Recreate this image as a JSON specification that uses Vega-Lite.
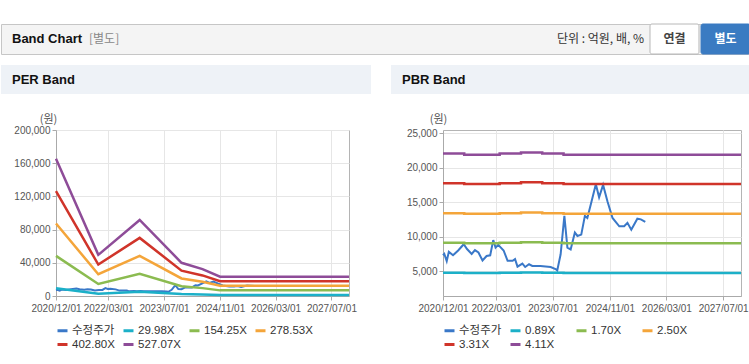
{
  "$schema": "https://vega.github.io/schema/vega-lite/v6.json",
  "padding": {"left": 0, "top": 23, "right": 0, "bottom": 0},
  "background": "white",
  "config": {
    "font": "Liberation Sans",
    "view": {"stroke": "#b4b4b4"},
    "axis": {
      "labelFont": "Liberation Sans", "labelFontSize": 10, "labelColor": "#555555",
      "domainColor": "#aaaaaa", "tickColor": "#aaaaaa", "tickSize": 4,
      "gridColor": "#e6e6e6", "titleFont": "Noto Sans CJK KR", "titleFontWeight": "normal",
      "titleFontSize": 11, "titleColor": "#555555", "labelFlush": false, "labelOverlap": false
    },
    "legend": {
      "orient": "bottom", "direction": "horizontal", "columns": 4, "title": null,
      "symbolType": "stroke", "symbolSize": 100, "symbolStrokeWidth": 3,
      "labelFontSize": 11.5, "labelColor": "#333333", "labelFont": "Liberation Sans, Noto Sans CJK KR",
      "gridAlign": "all", "columnPadding": 2, "rowPadding": 1, "offset": 11, "labelOffset": 3
    }
  },
  "datasets": {
    "price": [
      {"d": "2020-12-01", "v": 7300, "s": "수정주가"},
      {"d": "2020-12-12", "v": 7500, "s": "수정주가"},
      {"d": "2021-01-02", "v": 6450, "s": "수정주가"},
      {"d": "2021-01-20", "v": 7800, "s": "수정주가"},
      {"d": "2021-02-25", "v": 7300, "s": "수정주가"},
      {"d": "2021-04-10", "v": 8000, "s": "수정주가"},
      {"d": "2021-05-28", "v": 8900, "s": "수정주가"},
      {"d": "2021-06-25", "v": 8200, "s": "수정주가"},
      {"d": "2021-08-04", "v": 7500, "s": "수정주가"},
      {"d": "2021-09-01", "v": 8050, "s": "수정주가"},
      {"d": "2021-10-01", "v": 7700, "s": "수정주가"},
      {"d": "2021-11-05", "v": 6550, "s": "수정주가"},
      {"d": "2021-12-10", "v": 7200, "s": "수정주가"},
      {"d": "2022-01-10", "v": 7300, "s": "수정주가"},
      {"d": "2022-02-05", "v": 9500, "s": "수정주가"},
      {"d": "2022-02-25", "v": 8400, "s": "수정주가"},
      {"d": "2022-03-20", "v": 8800, "s": "수정주가"},
      {"d": "2022-05-05", "v": 8000, "s": "수정주가"},
      {"d": "2022-06-08", "v": 6500, "s": "수정주가"},
      {"d": "2022-07-21", "v": 6500, "s": "수정주가"},
      {"d": "2022-08-11", "v": 6750, "s": "수정주가"},
      {"d": "2022-09-01", "v": 5650, "s": "수정주가"},
      {"d": "2022-10-13", "v": 6100, "s": "수정주가"},
      {"d": "2022-11-06", "v": 5600, "s": "수정주가"},
      {"d": "2022-12-09", "v": 6000, "s": "수정주가"},
      {"d": "2023-01-06", "v": 5750, "s": "수정주가"},
      {"d": "2023-03-17", "v": 5750, "s": "수정주가"},
      {"d": "2023-06-12", "v": 5600, "s": "수정주가"},
      {"d": "2023-07-24", "v": 5300, "s": "수정주가"},
      {"d": "2023-08-08", "v": 5100, "s": "수정주가"},
      {"d": "2023-09-06", "v": 7450, "s": "수정주가"},
      {"d": "2023-10-08", "v": 13000, "s": "수정주가"},
      {"d": "2023-11-03", "v": 8400, "s": "수정주가"},
      {"d": "2023-12-01", "v": 8150, "s": "수정주가"},
      {"d": "2024-01-06", "v": 10600, "s": "수정주가"},
      {"d": "2024-01-28", "v": 10100, "s": "수정주가"},
      {"d": "2024-03-01", "v": 10300, "s": "수정주가"},
      {"d": "2024-04-01", "v": 13000, "s": "수정주가"},
      {"d": "2024-04-22", "v": 12700, "s": "수정주가"},
      {"d": "2024-05-22", "v": 14700, "s": "수정주가"},
      {"d": "2024-07-04", "v": 17600, "s": "수정주가"},
      {"d": "2024-08-01", "v": 15700, "s": "수정주가"},
      {"d": "2024-09-04", "v": 17500, "s": "수정주가"},
      {"d": "2024-10-12", "v": 15100, "s": "수정주가"},
      {"d": "2024-11-24", "v": 12700, "s": "수정주가"},
      {"d": "2025-01-21", "v": 11500, "s": "수정주가"},
      {"d": "2025-03-04", "v": 11500, "s": "수정주가"},
      {"d": "2025-04-01", "v": 12000, "s": "수정주가"},
      {"d": "2025-05-04", "v": 11000, "s": "수정주가"},
      {"d": "2025-06-25", "v": 12600, "s": "수정주가"},
      {"d": "2025-07-25", "v": 12500, "s": "수정주가"},
      {"d": "2025-09-01", "v": 12150, "s": "수정주가"}
    ],
    "per": [
      {"d": "2020-12-01", "s": "29.98X", "v": 9402},
      {"d": "2021-12-05", "s": "29.98X", "v": 2821},
      {"d": "2022-12-01", "s": "29.98X", "v": 5211},
      {"d": "2023-12-01", "s": "29.98X", "v": 2276},
      {"d": "2024-06-01", "s": "29.98X", "v": 1844},
      {"d": "2024-11-01", "s": "29.98X", "v": 1319},
      {"d": "2027-12-01", "s": "29.98X", "v": 1319},
      {"d": "2020-12-01", "s": "154.25X", "v": 48373},
      {"d": "2021-12-05", "s": "154.25X", "v": 14515},
      {"d": "2022-12-01", "s": "154.25X", "v": 26809},
      {"d": "2023-12-01", "s": "154.25X", "v": 11708},
      {"d": "2024-06-01", "s": "154.25X", "v": 9486},
      {"d": "2024-11-01", "s": "154.25X", "v": 6787},
      {"d": "2027-12-01", "s": "154.25X", "v": 6787},
      {"d": "2020-12-01", "s": "278.53X", "v": 87347},
      {"d": "2021-12-05", "s": "278.53X", "v": 26210},
      {"d": "2022-12-01", "s": "278.53X", "v": 48409},
      {"d": "2023-12-01", "s": "278.53X", "v": 21140},
      {"d": "2024-06-01", "s": "278.53X", "v": 17130},
      {"d": "2024-11-01", "s": "278.53X", "v": 12255},
      {"d": "2027-12-01", "s": "278.53X", "v": 12255},
      {"d": "2020-12-01", "s": "402.80X", "v": 126318},
      {"d": "2021-12-05", "s": "402.80X", "v": 37903},
      {"d": "2022-12-01", "s": "402.80X", "v": 70007},
      {"d": "2023-12-01", "s": "402.80X", "v": 30573},
      {"d": "2024-06-01", "s": "402.80X", "v": 24772},
      {"d": "2024-11-01", "s": "402.80X", "v": 17723},
      {"d": "2027-12-01", "s": "402.80X", "v": 17723},
      {"d": "2020-12-01", "s": "527.07X", "v": 165289},
      {"d": "2021-12-05", "s": "527.07X", "v": 49597},
      {"d": "2022-12-01", "s": "527.07X", "v": 91605},
      {"d": "2023-12-01", "s": "527.07X", "v": 40005},
      {"d": "2024-06-01", "s": "527.07X", "v": 32415},
      {"d": "2024-11-01", "s": "527.07X", "v": 23191},
      {"d": "2027-12-01", "s": "527.07X", "v": 23191}
    ],
    "pbr": [
      {"d": "2020-12-01", "s": "0.89X", "v": 4770},
      {"d": "2021-06-01", "s": "0.89X", "v": 4735},
      {"d": "2022-04-01", "s": "0.89X", "v": 4770},
      {"d": "2022-10-01", "s": "0.89X", "v": 4806},
      {"d": "2023-04-01", "s": "0.89X", "v": 4770},
      {"d": "2023-10-01", "s": "0.89X", "v": 4735},
      {"d": "2027-12-01", "s": "0.89X", "v": 4735},
      {"d": "2020-12-01", "s": "1.70X", "v": 9112},
      {"d": "2021-06-01", "s": "1.70X", "v": 9044},
      {"d": "2022-04-01", "s": "1.70X", "v": 9112},
      {"d": "2022-10-01", "s": "1.70X", "v": 9180},
      {"d": "2023-04-01", "s": "1.70X", "v": 9112},
      {"d": "2023-10-01", "s": "1.70X", "v": 9044},
      {"d": "2027-12-01", "s": "1.70X", "v": 9044},
      {"d": "2020-12-01", "s": "2.50X", "v": 13400},
      {"d": "2021-06-01", "s": "2.50X", "v": 13300},
      {"d": "2022-04-01", "s": "2.50X", "v": 13400},
      {"d": "2022-10-01", "s": "2.50X", "v": 13500},
      {"d": "2023-04-01", "s": "2.50X", "v": 13400},
      {"d": "2023-10-01", "s": "2.50X", "v": 13300},
      {"d": "2027-12-01", "s": "2.50X", "v": 13300},
      {"d": "2020-12-01", "s": "3.31X", "v": 17742},
      {"d": "2021-06-01", "s": "3.31X", "v": 17609},
      {"d": "2022-04-01", "s": "3.31X", "v": 17742},
      {"d": "2022-10-01", "s": "3.31X", "v": 17874},
      {"d": "2023-04-01", "s": "3.31X", "v": 17742},
      {"d": "2023-10-01", "s": "3.31X", "v": 17609},
      {"d": "2027-12-01", "s": "3.31X", "v": 17609},
      {"d": "2020-12-01", "s": "4.11X", "v": 22030},
      {"d": "2021-06-01", "s": "4.11X", "v": 21865},
      {"d": "2022-04-01", "s": "4.11X", "v": 22030},
      {"d": "2022-10-01", "s": "4.11X", "v": 22194},
      {"d": "2023-04-01", "s": "4.11X", "v": 22030},
      {"d": "2023-10-01", "s": "4.11X", "v": 21865},
      {"d": "2027-12-01", "s": "4.11X", "v": 21865}
    ]
  },
  "resolve": {"scale": {"color": "independent"}, "legend": {"color": "independent"}},
  "spacing": 10,
  "vconcat": [
    {
      "width": 749, "height": 30,
      "view": {"fill": "#f4f4f4", "stroke": "#c6c6c6"},
      "resolve": {"scale": {"x": "independent"}},
      "layer": [
        {
          "data": {"values": [{"b": "연결"}, {"b": "별도"}]},
          "layer": [
            {
              "mark": {"type": "rect", "cornerRadius": 2, "strokeWidth": 1},
              "encoding": {
                "x": {"field": "b", "type": "nominal", "scale": {"type": "band", "domain": ["연결", "별도"], "range": [649, 749], "paddingInner": 0.04, "paddingOuter": 0}, "axis": null},
                "fill": {"field": "b", "type": "nominal", "scale": {"domain": ["연결", "별도"], "range": ["#ffffff", "#3a7bc2"]}, "legend": null},
                "stroke": {"field": "b", "type": "nominal", "scale": {"domain": ["연결", "별도"], "range": ["#b8b8b8", "#3a7bc2"]}, "legend": null}
              }
            },
            {
              "mark": {"type": "text", "font": "Noto Sans CJK KR", "fontWeight": "bold", "fontSize": 12},
              "encoding": {
                "x": {"field": "b", "type": "nominal", "scale": {"type": "band", "domain": ["연결", "별도"], "range": [649, 749], "paddingInner": 0.04, "paddingOuter": 0}, "axis": null},
                "text": {"field": "b"},
                "color": {"field": "b", "type": "nominal", "scale": {"domain": ["연결", "별도"], "range": ["#444444", "#ffffff"]}, "legend": null}
              }
            }
          ]
        },
        {
          "data": {"values": [{"t": "Band Chart"}]},
          "mark": {"type": "text", "align": "left", "fontWeight": "bold", "fontSize": 13, "font": "Liberation Sans", "color": "#111111"},
          "encoding": {
            "x": {"field": "t", "type": "nominal", "scale": {"type": "point", "range": [11, 11]}, "axis": null},
            "text": {"field": "t"}
          }
        },
        {
          "data": {"values": [{"t": "[별도]"}]},
          "mark": {"type": "text", "align": "left", "fontSize": 12, "font": "Noto Sans CJK KR", "color": "#888888"},
          "encoding": {
            "x": {"field": "t", "type": "nominal", "scale": {"type": "point", "range": [88, 88]}, "axis": null},
            "text": {"field": "t"}
          }
        },
        {
          "data": {"values": [{"t": "단위 : 억원, 배, %"}]},
          "mark": {"type": "text", "align": "right", "fontSize": 12, "font": "Noto Sans CJK KR", "color": "#333333"},
          "encoding": {
            "x": {"field": "t", "type": "nominal", "scale": {"type": "point", "range": [643, 643]}, "axis": null},
            "text": {"field": "t"}
          }
        }
      ]
    },
    {
      "spacing": 18,
      "resolve": {"scale": {"color": "independent"}, "legend": {"color": "independent"}},
      "vconcat": [
        {
          "spacing": 20,
          "hconcat": [
            {
              "width": 370, "height": 29,
              "view": {"fill": "#eef2f7", "stroke": null},
              "data": {"values": [{"t": "PER Band"}]},
              "mark": {"type": "text", "align": "left", "fontWeight": "bold", "fontSize": 13, "font": "Liberation Sans", "color": "#111111"},
              "encoding": {
                "x": {"field": "t", "type": "nominal", "scale": {"type": "point", "range": [11, 11]}, "axis": null},
                "text": {"field": "t"}
              }
            },
            {
              "width": 359, "height": 29,
              "view": {"fill": "#eef2f7", "stroke": null},
              "data": {"values": [{"t": "PBR Band"}]},
              "mark": {"type": "text", "align": "left", "fontWeight": "bold", "fontSize": 13, "font": "Liberation Sans", "color": "#111111"},
              "encoding": {
                "x": {"field": "t", "type": "nominal", "scale": {"type": "point", "range": [11, 11]}, "axis": null},
                "text": {"field": "t"}
              }
            }
          ]
        },
        {
          "spacing": 0,
          "resolve": {"scale": {"color": "independent"}, "legend": {"color": "independent"}},
          "hconcat": [
            {
              "width": 1, "height": 1,
              "view": {"stroke": null},
              "data": {"values": []},
              "mark": "point"
            },
            {
              "width": 293, "height": 166,
              "encoding": {
                "x": {"field": "d", "type": "temporal",
                  "scale": {"type": "utc", "domain": [{"year": 2020, "month": 12, "date": 1, "utc": true}, {"year": 2027, "month": 12, "date": 1, "utc": true}]},
                  "axis": {"title": null, "format": "%Y/%m/%d", "grid": true, "labelPadding": 3,
                    "values": [{"year": 2020, "month": 12, "date": 1, "utc": true}, {"year": 2022, "month": 3, "date": 1, "utc": true}, {"year": 2023, "month": 7, "date": 1, "utc": true}, {"year": 2024, "month": 11, "date": 1, "utc": true}, {"year": 2026, "month": 3, "date": 1, "utc": true}, {"year": 2027, "month": 7, "date": 1, "utc": true}]}},
                "y": {"field": "v", "type": "quantitative",
                  "scale": {"domain": [0, 200000], "nice": false, "zero": false},
                  "axis": {"title": "(원)", "titleAngle": 0, "titleAlign": "center", "titleBaseline": "bottom", "titleX": -8, "titleY": -6,
                    "values": [0, 40000, 80000, 120000, 160000, 200000], "format": ",d", "grid": true, "minExtent": 53, "labelPadding": 2}},
                "color": {"field": "s", "type": "nominal",
                  "scale": {"domain": ["수정주가", "29.98X", "154.25X", "278.53X", "402.80X", "527.07X"], "range": ["#3a78c8", "#1cb0c8", "#8bbb50", "#f4a53a", "#d0342a", "#8e4c98"]}}
              },
              "layer": [
                {"data": {"name": "price"}, "mark": {"type": "line", "strokeWidth": 2}},
                {"data": {"name": "per"}, "mark": {"type": "line", "strokeWidth": 2.5}}
              ]
            },
            {
              "width": 298, "height": 166,
              "encoding": {
                "x": {"field": "d", "type": "temporal",
                  "scale": {"type": "utc", "domain": [{"year": 2020, "month": 12, "date": 1, "utc": true}, {"year": 2027, "month": 12, "date": 1, "utc": true}]},
                  "axis": {"title": null, "format": "%Y/%m/%d", "grid": true, "labelPadding": 3,
                    "values": [{"year": 2020, "month": 12, "date": 1, "utc": true}, {"year": 2022, "month": 3, "date": 1, "utc": true}, {"year": 2023, "month": 7, "date": 1, "utc": true}, {"year": 2024, "month": 11, "date": 1, "utc": true}, {"year": 2026, "month": 3, "date": 1, "utc": true}, {"year": 2027, "month": 7, "date": 1, "utc": true}]}},
                "y": {"field": "v", "type": "quantitative",
                  "scale": {"domain": [1400, 25450], "nice": false, "zero": false},
                  "axis": {"title": "(원)", "titleAngle": 0, "titleAlign": "center", "titleBaseline": "bottom", "titleX": -5, "titleY": -6,
                    "values": [5000, 10000, 15000, 20000, 25000], "format": ",d", "grid": true, "minExtent": 85, "labelPadding": 2}},
                "color": {"field": "s", "type": "nominal",
                  "scale": {"domain": ["수정주가", "0.89X", "1.70X", "2.50X", "3.31X", "4.11X"], "range": ["#3a78c8", "#1cb0c8", "#8bbb50", "#f4a53a", "#d0342a", "#8e4c98"]}}
              },
              "layer": [
                {"data": {"name": "price"}, "mark": {"type": "line", "strokeWidth": 2}},
                {"data": {"name": "pbr"}, "mark": {"type": "line", "strokeWidth": 2.5, "interpolate": "step-after"}}
              ]
            }
          ]
        }
      ]
    }
  ]
}
